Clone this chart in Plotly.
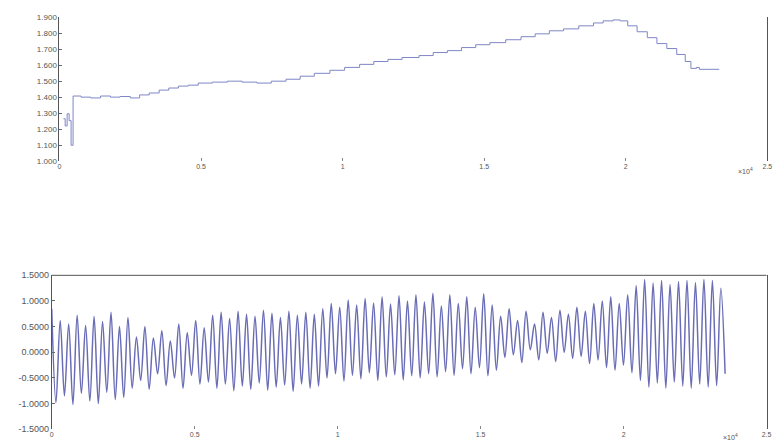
import numpy as np
import plotly.graph_objects as go

# ---------------- data ----------------
# top panel (x in samples, shown as x10^4)
top_x = [140, 200, 270, 340, 410, 480, 760, 1100, 1450, 1800, 2140, 2500, 2830, 3170,
         3520, 3860, 4200, 4550, 4900, 5400, 5930, 6450, 6970, 7480, 8000, 8500, 9000,
         9550, 10070, 10600, 11100, 11600, 12100, 12700, 13200, 13700, 14200, 14700,
         15200, 15760, 16300, 16800, 17300, 17800, 18340, 18860, 19200, 19550, 19800,
         20070, 20400, 20760, 21100, 21450, 21800, 22100, 22300, 22500, 22600, 23300]
top_y = [1.265, 1.220, 1.296, 1.253, 1.099, 1.407, 1.400, 1.395, 1.407, 1.400, 1.404,
         1.395, 1.414, 1.426, 1.444, 1.457, 1.469, 1.475, 1.488, 1.494, 1.500, 1.494,
         1.488, 1.500, 1.512, 1.531, 1.549, 1.568, 1.586, 1.605, 1.623, 1.636, 1.648,
         1.660, 1.679, 1.691, 1.710, 1.728, 1.741, 1.759, 1.778, 1.796, 1.815, 1.827,
         1.846, 1.864, 1.877, 1.883, 1.877, 1.846, 1.809, 1.772, 1.735, 1.704, 1.667,
         1.623, 1.580, 1.586, 1.574, 1.574]
top_ticks = [1.0, 1.1, 1.2, 1.3, 1.4, 1.5, 1.6, 1.7, 1.8, 1.9]
top_ticktext = ["1.000", "1.100", "1.200", "1.300", "1.400", "1.500", "1.600", "1.700", "1.800", "1.900"]

# bottom panel: alternating peaks and troughs of the oscillation
peaks = [0.85, 0.62, 0.55, 0.72, 0.52, 0.70, 0.60, 0.78, 0.50, 0.68,
         0.30, 0.50, 0.28, 0.42, 0.22, 0.55, 0.38, 0.62, 0.48,
         0.72, 0.78, 0.66, 0.80, 0.74, 0.70, 0.82, 0.76, 0.68, 0.80, 0.72, 0.78, 0.74,
         0.85, 0.95, 0.88, 1.02, 0.92, 1.05, 0.96, 1.08, 0.94, 1.10, 1.00, 1.12, 0.98, 1.15,
         0.90, 1.12, 0.95, 1.08, 0.88, 1.14, 0.92,
         0.70, 0.85, 0.62, 0.80, 0.55, 0.78, 0.68, 0.82, 0.74, 0.88, 0.80, 0.95,
         1.00, 1.08, 0.95, 1.12,
         1.30, 1.42, 1.35, 1.40, 1.32, 1.38, 1.40, 1.36, 1.42, 1.40, 1.25]
troughs = [-0.98, -0.85, -1.02, -0.80, -0.95, -1.00, -0.78, -0.92, -0.88, -0.70,
           -0.55, -0.72, -0.42, -0.65, -0.50, -0.70, -0.45, -0.62, -0.58,
           -0.70, -0.62, -0.75, -0.66, -0.72, -0.60, -0.74, -0.68, -0.64, -0.76, -0.62, -0.70, -0.66,
           -0.50, -0.42, -0.56, -0.45, -0.52, -0.40, -0.55, -0.48, -0.44, -0.54, -0.46, -0.50, -0.42, -0.48,
           -0.38, -0.45, -0.32, -0.42, -0.30, -0.46, -0.35,
           -0.10, -0.05, -0.20, 0.05, -0.15, -0.02, -0.18, 0.00, -0.12, -0.08, -0.22, -0.15,
           -0.30, -0.35, -0.25, -0.40,
           -0.55, -0.68, -0.60, -0.70, -0.58, -0.66, -0.70, -0.62, -0.68, -0.65, -0.42]
bottom_end = 23550
bot_ticks = [-1.5, -1.0, -0.5, 0.0, 0.5, 1.0, 1.5]
bot_ticktext = ["-1.5000", "-1.0000", "-0.5000", "0.0000", "0.5000", "1.0000", "1.5000"]

x_ticks = [0, 5000, 10000, 15000, 20000, 25000]
x_ticktext = ["0", "0.5", "1", "1.5", "2", "2.5"]

# ---------------- figure ----------------
bot_y = []
for p, t in zip(peaks, troughs):
    bot_y += [p, t]
bot_x = np.linspace(0, bottom_end, len(bot_y))

fig = go.Figure()
fig.add_trace(go.Scatter(x=top_x, y=top_y, mode="lines",
                         line=dict(color="#7f86c6", width=1, shape="hv"),
                         xaxis="x", yaxis="y", showlegend=False))
fig.add_trace(go.Scatter(x=bot_x, y=bot_y, mode="lines",
                         line=dict(color="#6a6db5", width=1.5, shape="spline"),
                         xaxis="x2", yaxis="y2", showlegend=False))

fam = "Liberation Sans, Arial, sans-serif"
xfont = dict(family=fam, size=7, color="#555")
common_x = dict(range=[0, 25000], tickvals=x_ticks, ticktext=x_ticktext,
                ticks="inside", ticklen=3, tickcolor="#888", showline=False,
                showgrid=False, zeroline=False, tickfont=xfont,
                ticklabeloverflow="allow")
common_y = dict(ticks="inside", ticklen=3, tickcolor="#666", showline=True,
                linecolor="#555", linewidth=1, mirror=True, showgrid=False,
                zeroline=False)

fig.update_layout(
    width=784, height=446,
    margin=dict(l=0, r=0, t=0, b=0),
    paper_bgcolor="white", plot_bgcolor="white",
    xaxis=dict(domain=[0.074, 0.985], anchor="y", **common_x),
    yaxis=dict(domain=[0.642, 0.972], anchor="x", range=[1.0, 1.9],
               tickvals=top_ticks, ticktext=top_ticktext,
               tickfont=dict(family=fam, size=8, color="#555"), **common_y),
    xaxis2=dict(domain=[0.064, 0.984], anchor="y2", **common_x),
    yaxis2=dict(domain=[0.027, 0.380], anchor="x2", range=[-1.5, 1.5],
                tickvals=bot_ticks, ticktext=bot_ticktext,
                tickfont=dict(family=fam, size=9, color="#555"), **common_y),
    shapes=[dict(type="line", xref="paper", yref="paper", x0=0.064, x1=0.984,
                 y0=0.380, y1=0.380, line=dict(color="#555", width=1))],
    annotations=[
        dict(text="×10<sup>4</sup>", xref="paper", yref="paper", x=0.945, y=0.632,
             showarrow=False, font=xfont, xanchor="left", yanchor="top"),
        dict(text="×10<sup>4</sup>", xref="paper", yref="paper", x=0.925, y=-0.004,
             showarrow=False, font=xfont, xanchor="left", yanchor="bottom"),
    ],
)

fig.write_html("out.html", config={"displayModeBar": False},
               post_script="document.body.style.margin='0';document.body.style.padding='0';")
